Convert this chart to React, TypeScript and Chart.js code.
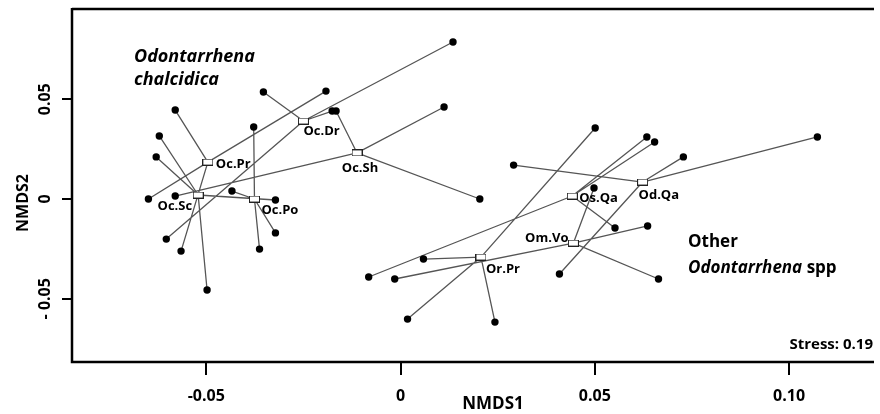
import React, { useEffect, useRef } from "react";
import { Chart, registerables } from "chart.js";

Chart.register(...registerables);

// ---- data ----
const GROUPS = ["Oc.Pr", "Oc.Sc", "Oc.Po", "Oc.Dr", "Oc.Sh", "Or.Pr", "Os.Qa", "Od.Qa", "Om.Vo"];
const CENTROID_X = [-0.0496, -0.0521, -0.0376, -0.025, -0.0112, 0.0207, 0.0442, 0.0623, 0.0445];
const CENTROID_Y = [0.0185, 0.002, 0.0, 0.0391, 0.0231, -0.0291, 0.0015, 0.0085, -0.0221];
const MEMBER_X = [
  [-0.058, -0.0649, -0.0192, -0.0565],
  [-0.0621, -0.0629, -0.0498, -0.0322],
  [-0.0434, -0.0378, -0.0322, -0.0363],
  [-0.0353, 0.0135, -0.0176, -0.0603],
  [-0.0166, 0.0112, 0.0204, -0.058],
  [0.0059, 0.0018, 0.0243, 0.0501],
  [-0.0082, 0.0552, 0.0634, 0.0654],
  [0.0291, 0.0728, 0.1073, 0.0409],
  [-0.0015, 0.0498, 0.0636, 0.0664],
];
const MEMBER_Y = [
  [0.0446, 0.0, 0.0541, -0.0261],
  [0.0316, 0.0211, -0.0456, -0.0005],
  [0.004, 0.0361, -0.017, -0.0251],
  [0.0536, 0.0787, 0.0441, -0.0201],
  [0.0441, 0.0461, 0.0, 0.0015],
  [-0.0301, -0.0602, -0.0617, 0.0356],
  [-0.0391, -0.0145, 0.0311, 0.0286],
  [0.017, 0.0211, 0.0311, -0.0376],
  [-0.0401, 0.0055, -0.0135, -0.0401],
];
const X_TICKS = [-0.05, 0, 0.05, 0.1];
const X_TICK_LABELS = ["-0.05", "0", "0.05", "0.10"];
const Y_TICKS = [0.05, 0, -0.05];
const Y_TICK_LABELS = ["0.05", "0", "- 0.05"];
const X_TITLE = "NMDS1";
const Y_TITLE = "NMDS2";
const STRESS_TEXT = "Stress: 0.19";

// label placement (pixel offsets from centroid, alignment)
const LABEL_PLACEMENT: Record<string, [number, number, CanvasTextAlign]> = {
  "Oc.Pr": [8, 2, "left"],
  "Oc.Sc": [-6, 11, "right"],
  "Oc.Po": [7, 11, "left"],
  "Oc.Dr": [0, 10, "left"],
  "Oc.Sh": [3, 15, "center"],
  "Or.Pr": [5, 12, "left"],
  "Os.Qa": [7, 2, "left"],
  "Od.Qa": [-4, 13, "left"],
  "Om.Vo": [-5, -5, "right"],
};

const FONT = "'Open Sans', 'Liberation Sans', sans-serif";

export default function App() {
  const ref = useRef<HTMLCanvasElement | null>(null);

  useEffect(() => {
    const canvas = ref.current;
    if (!canvas) return;

    const lineData: any[] = [];
    const memberData: any[] = [];
    const centroidData: any[] = [];
    GROUPS.forEach((g, gi) => {
      centroidData.push({ x: CENTROID_X[gi], y: CENTROID_Y[gi] });
      MEMBER_X[gi].forEach((mx, mi) => {
        const my = MEMBER_Y[gi][mi];
        memberData.push({ x: mx, y: my });
        lineData.push({ x: CENTROID_X[gi], y: CENTROID_Y[gi] });
        lineData.push({ x: mx, y: my });
        lineData.push({ x: mx, y: null });
      });
    });

    const box = document.createElement("canvas");
    box.width = 11;
    box.height = 7;
    const bctx = box.getContext("2d")!;
    bctx.fillStyle = "#fff";
    bctx.fillRect(0, 0, 11, 7);
    bctx.strokeStyle = "#222";
    bctx.lineWidth = 1;
    bctx.strokeRect(0.5, 0.5, 10, 6);

    const decor = {
      id: "decor",
      afterDraw(chart: any) {
        const { ctx, chartArea: a } = chart;
        const xs = chart.scales.x;
        const ys = chart.scales.y;
        ctx.save();
        ctx.strokeStyle = "#000";
        ctx.lineWidth = 2.5;
        ctx.beginPath();
        ctx.moveTo(a.left, a.top - 1);
        ctx.lineTo(a.right, a.top - 1);
        ctx.moveTo(a.left, a.top - 2);
        ctx.lineTo(a.left, a.bottom);
        ctx.lineTo(a.right, a.bottom);
        ctx.stroke();

        ctx.lineWidth = 2;
        ctx.beginPath();
        X_TICKS.forEach((v) => {
          const px = Math.round(xs.getPixelForValue(v));
          ctx.moveTo(px, a.bottom);
          ctx.lineTo(px, a.bottom + 13);
        });
        Y_TICKS.forEach((v) => {
          const py = Math.round(ys.getPixelForValue(v));
          ctx.moveTo(a.left - 10, py);
          ctx.lineTo(a.left, py);
        });
        ctx.stroke();

        ctx.fillStyle = "#000";
        ctx.font = `700 16px ${FONT}`;
        ctx.textAlign = "center";
        ctx.textBaseline = "middle";
        X_TICKS.forEach((v, i) => {
          ctx.fillText(X_TICK_LABELS[i], xs.getPixelForValue(v), 396);
        });
        Y_TICKS.forEach((v, i) => {
          ctx.save();
          ctx.translate(45, ys.getPixelForValue(v));
          ctx.rotate(-Math.PI / 2);
          ctx.fillText(Y_TICK_LABELS[i], 0, 0);
          ctx.restore();
        });

        ctx.font = `700 17px ${FONT}`;
        ctx.fillText(X_TITLE, 493, 404);
        ctx.font = `700 16px ${FONT}`;
        ctx.save();
        ctx.translate(23, 203);
        ctx.rotate(-Math.PI / 2);
        ctx.fillText(Y_TITLE, 0, 0);
        ctx.restore();

        // centroid labels
        ctx.font = `700 13px ${FONT}`;
        GROUPS.forEach((g, gi) => {
          const [dx, dy, al] = LABEL_PLACEMENT[g];
          ctx.textAlign = al;
          ctx.fillText(g, xs.getPixelForValue(CENTROID_X[gi]) + dx, ys.getPixelForValue(CENTROID_Y[gi]) + dy);
        });

        // group annotations
        ctx.textAlign = "left";
        ctx.font = `italic 700 18px ${FONT}`;
        ctx.fillText("Odontarrhena", 134, 57);
        ctx.fillText("chalcidica", 134, 80);
        ctx.font = `700 17px ${FONT}`;
        ctx.fillText("Other", 688, 242);
        ctx.font = `italic 700 17px ${FONT}`;
        ctx.fillText("Odontarrhena", 688, 268);
        const w = ctx.measureText("Odontarrhena").width;
        ctx.font = `700 17px ${FONT}`;
        ctx.fillText(" spp", 688 + w, 268);

        ctx.font = `700 15px ${FONT}`;
        ctx.textAlign = "right";
        ctx.fillText(STRESS_TEXT, 873, 345);
        ctx.restore();
      },
    };

    const chart = new Chart(canvas, {
      type: "scatter",
      data: {
        datasets: [
          {
            data: centroidData,
            pointStyle: box as any,
            pointRadius: 5,
            order: 0,
          },
          {
            data: memberData,
            pointRadius: 3.7,
            backgroundColor: "#000",
            borderWidth: 0,
            order: 1,
          },
          {
            data: lineData,
            showLine: true,
            spanGaps: false,
            borderColor: "#555",
            borderWidth: 1.3,
            pointRadius: 0,
            order: 2,
          } as any,
        ],
      },
      options: {
        responsive: false,
        animation: false,
        devicePixelRatio: 1,
        layout: { padding: { left: 72, top: 10, right: 0, bottom: 52 } },
        plugins: { legend: { display: false }, tooltip: { enabled: false } },
        scales: {
          x: { type: "linear", display: false, min: -0.08457, max: 0.12187 },
          y: { type: "linear", display: false, min: -0.0817, max: 0.09474 },
        },
      },
      plugins: [decor],
    });
    return () => chart.destroy();
  }, []);

  return (
    <div style={{ position: "fixed", left: 0, top: 0, width: 880, height: 414, background: "#fff" }}>
      <canvas ref={ref} width={880} height={414} style={{ display: "block" }} />
    </div>
  );
}
